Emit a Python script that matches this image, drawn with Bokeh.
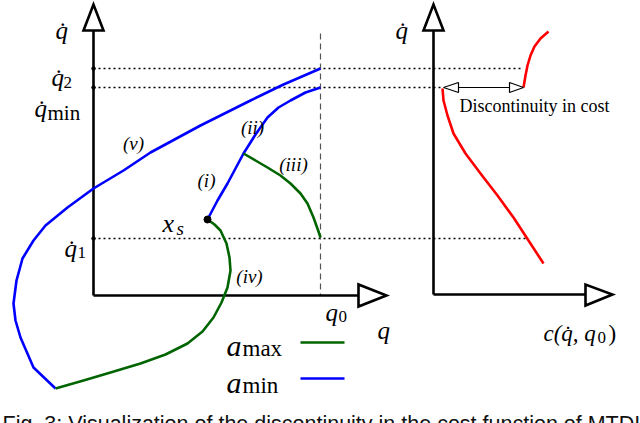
from bokeh.plotting import figure
from bokeh.models import Range1d
from bokeh.embed import file_html
from bokeh.resources import INLINE
from bokeh.core.properties import value

# ---- curve data (picture pixel coordinates, y downward) ----
blue_outer_x = [320, 283, 250, 200, 150, 123, 93, 67, 45, 33, 22, 16, 13, 15, 20, 33, 55]
blue_outer_y = [68, 84, 100, 125, 152, 170, 188, 207, 225, 240, 258, 280, 303, 320, 337, 367, 388]

green_low_x = [55, 83, 110, 140, 165, 187, 202, 213, 221, 227, 230, 229, 226, 220, 214, 207]
green_low_y = [388, 380, 372, 363, 354, 343, 331, 317, 302, 287, 270, 257, 243, 230, 224, 219]

blue_inner_x = [207, 217, 227, 235, 243, 255, 267, 278, 290, 305, 320]
blue_inner_y = [219, 200, 183, 168, 153, 134, 117, 107, 100, 92, 87]

green_iii_x = [243, 255, 267, 280, 290, 300, 307, 313, 318, 320]
green_iii_y = [153, 160, 167, 175, 183, 193, 203, 217, 231, 237]

red_upper_x = [523, 525, 527, 530, 534, 540, 548]
red_upper_y = [87, 75, 65, 55, 46, 38, 31]

red_lower_x = [442, 443, 447, 453, 465, 480, 497, 513, 528, 543]
red_lower_y = [88, 100, 115, 133, 153, 173, 195, 217, 240, 263]

# reference levels
qdot2_y = 68
qdotmin_y = 87
qdot1_y = 238
q0_x = 320

p = figure(width=640, height=423, output_backend="svg", toolbar_location=None,
           x_range=Range1d(0, 640), y_range=Range1d(423, 0),
           x_axis_type=None, y_axis_type=None, min_border=0)
p.grid.visible = False
p.outline_line_color = None
p.background_fill_color = "white"
p.border_fill_color = "white"

# dotted guide lines
dot = dict(line_color="black", line_width=1.5, line_dash="2 3")
p.line([93, 523], [qdot2_y, qdot2_y], **dot)
p.line([93, 443], [qdotmin_y, qdotmin_y], **dot)
p.line([93, 528], [qdot1_y, qdot1_y], **dot)
# dashed vertical q0
p.line([q0_x, q0_x], [33, 295], line_color="#555555", line_width=1.2, line_dash="6 4")

# axes
ax = dict(line_color="black", line_width=2.6)
p.line([93, 93], [30, 295], **ax)
p.line([93, 358], [295, 295], **ax)
p.line([433, 433], [30, 294], **ax)
p.line([433, 585], [294, 294], **ax)
tri = dict(fill_color="white", line_color="black", line_width=2.6, line_join="miter")
p.patch([93, 83, 103], [4, 30, 30], **tri)
p.patch([358, 358, 386], [284, 306, 295], **tri)
p.patch([433, 423, 443], [4, 30, 30], **tri)
p.patch([585, 585, 612], [284, 305, 294], **tri)

# small dots on the axis
p.scatter([93, 93, 93], [qdot2_y, qdotmin_y, qdot1_y], size=3.5, color="black")

# curves
cw = 2.6
p.line(blue_outer_x, blue_outer_y, line_color="#0000ff", line_width=cw, line_join="round")
p.line(green_low_x, green_low_y, line_color="#006400", line_width=cw, line_join="round")
p.line(blue_inner_x, blue_inner_y, line_color="#0000ff", line_width=cw, line_join="round")
p.line(green_iii_x, green_iii_y, line_color="#006400", line_width=cw, line_join="round")
p.line(red_upper_x, red_upper_y, line_color="#ff0000", line_width=cw, line_join="round")
p.line(red_lower_x, red_lower_y, line_color="#ff0000", line_width=cw, line_join="round")
p.scatter([207], [219], size=7, color="black")

# legend lines
p.line([300, 344], [342, 342], line_color="#006400", line_width=cw)
p.line([300, 344], [378, 378], line_color="#0000ff", line_width=cw)

# discontinuity double arrow
p.line([458, 509], [87, 87], line_color="black", line_width=1.2)
p.patch([443, 458, 458], [87, 82, 92], fill_color="white", line_color="black", line_width=1.2)
p.patch([523, 509, 509], [87, 82, 92], fill_color="white", line_color="black", line_width=1.2)

serif = value("Liberation Serif")

def lab(x, y, t, size=25, style="italic", align="left", font=serif, color="black"):
    p.text([x], [y], text=[t], text_font=font, text_font_size=f"{size}px",
           text_font_style=style, text_align=align, text_baseline="alphabetic",
           text_color=color)

QD = "q\u0307"
# left panel labels
lab(55, 30, QD)
lab(51, 77, QD); lab(63, 82, "2", 17, "normal")
lab(34, 108, QD); lab(47, 112, "min", 21, "normal")
lab(64, 248, QD); lab(77, 252, "1", 17, "normal")
lab(162, 223, "x", 26); lab(176, 228, "s", 19)
lab(133, 143, "(v)", 19, align="center")
lab(252, 127, "(ii)", 19, align="center")
lab(293, 164, "(iii)", 19, align="center")
lab(206, 180, "(i)", 19, align="center")
lab(249, 276, "(iv)", 19, align="center")
lab(325, 312, "q"); lab(338, 316, "0", 17, "normal")
lab(377, 330, "q")
lab(226, 345, "a", 30); lab(242, 348, "max", 23, "normal")
lab(226, 382, "a", 30); lab(242, 385, "min", 23, "normal")

# right panel labels
lab(395, 30, QD)
lab(543, 333, "c(" + QD + ", q", 23); lab(597, 337, "0", 17, "normal"); lab(608, 333, ")", 23, "normal")
lab(459, 105, "Discontinuity in cost", 18, "normal")

# caption
lab(2, 423, "Fig. 3: Visualization of the discontinuity in the cost function of MTDI", 21.5,
    "normal", font=value("Liberation Sans"), color="#111111")

open("out.html", "w").write(file_html(p, INLINE))
